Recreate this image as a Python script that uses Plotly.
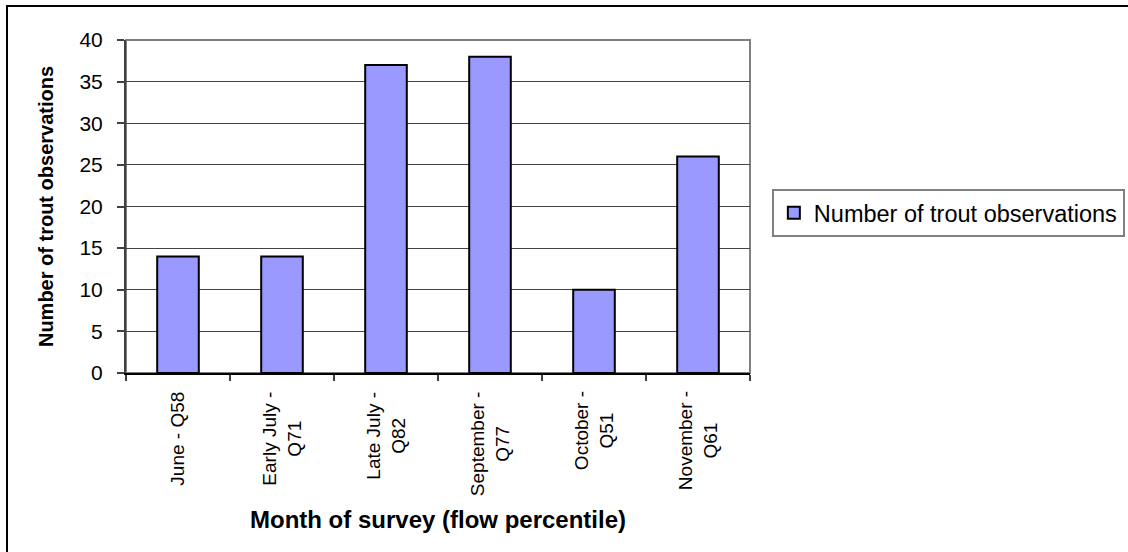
import plotly.graph_objects as go

# Data
categories = ["June - Q58", "Early July - Q71", "Late July - Q82",
              "September - Q77", "October - Q51", "November - Q61"]
tick_labels = ["June - Q58", "Early July -<br>Q71", "Late July -<br>Q82",
               "September -<br>Q77", "October -<br>Q51", "November -<br>Q61"]
trout_obs = [14, 14, 37, 38, 10, 26]
series_name = "Number of trout observations"
x_title = "Month of survey (flow percentile)"
y_title = "Number of trout observations"

FONT = "Liberation Sans, Arial, sans-serif"

fig = go.Figure()
fig.add_trace(go.Bar(
    x=categories, y=trout_obs, name=series_name,
    marker=dict(color="#9999FF", line=dict(color="#000000", width=2)),
))

# rotated category labels (centred lines, like the original)
for cat, lab in zip(categories, tick_labels):
    fig.add_annotation(
        x=cat, xref="x", y=-0.05, yref="paper",
        text=lab, textangle=-90, showarrow=False,
        xanchor="center", yanchor="top", align="center",
        font=dict(family=FONT, size=19, color="#000000"),
    )

fig.update_layout(
    width=1128, height=552,
    margin=dict(l=126, r=378, t=40, b=179, autoexpand=False),
    paper_bgcolor="white", plot_bgcolor="white",
    bargap=0.6,
    showlegend=True,
    font=dict(family=FONT, color="#000000"),
    legend=dict(
        x=1.035, xanchor="left", y=0.5526, yanchor="top",
        bordercolor="#808080", borderwidth=2, bgcolor="white",
        font=dict(family=FONT, size=23.5, color="#000000"),
        itemwidth=30,
    ),
    xaxis=dict(
        type="category", showticklabels=False,
        showline=True, linecolor="#000000", linewidth=1.5,
        ticks="outside", tickson="boundaries", ticklen=6, tickcolor="#404040", tickwidth=1.5,
        showgrid=False, zeroline=False,
        title=dict(text=x_title, standoff=137,
                   font=dict(family=FONT, size=24, color="#000000", weight="bold")),
        automargin=False,
    ),
    yaxis=dict(
        range=[0, 40], dtick=5, tick0=0,
        showline=True, linecolor="#404040", linewidth=2,
        ticks="outside", ticklen=7, tickcolor="#404040", tickwidth=1.5,
        ticklabelstandoff=10,
        showgrid=True, gridcolor="#444444", gridwidth=1.2,
        zeroline=False,
        tickfont=dict(family=FONT, size=21, color="#000000"),
        title=dict(text=y_title, standoff=20,
                   font=dict(family=FONT, size=20, color="#000000", weight="bold")),
        automargin=False,
    ),
    shapes=[
        # grey plot-area frame (top/right)
        dict(type="rect", xref="paper", yref="paper", x0=0, x1=1, y0=0, y1=1,
             line=dict(color="#808080", width=2), layer="below"),
        # outer chart border
        dict(type="rect", xref="paper", yref="paper",
             x0=-0.1907, x1=1.625, y0=-0.5616, y1=1.1021,
             line=dict(color="#000000", width=2), layer="below"),
    ],
)

fig.write_html("out.html", config={"displayModeBar": False},
               post_script="document.body.style.margin='0';")
